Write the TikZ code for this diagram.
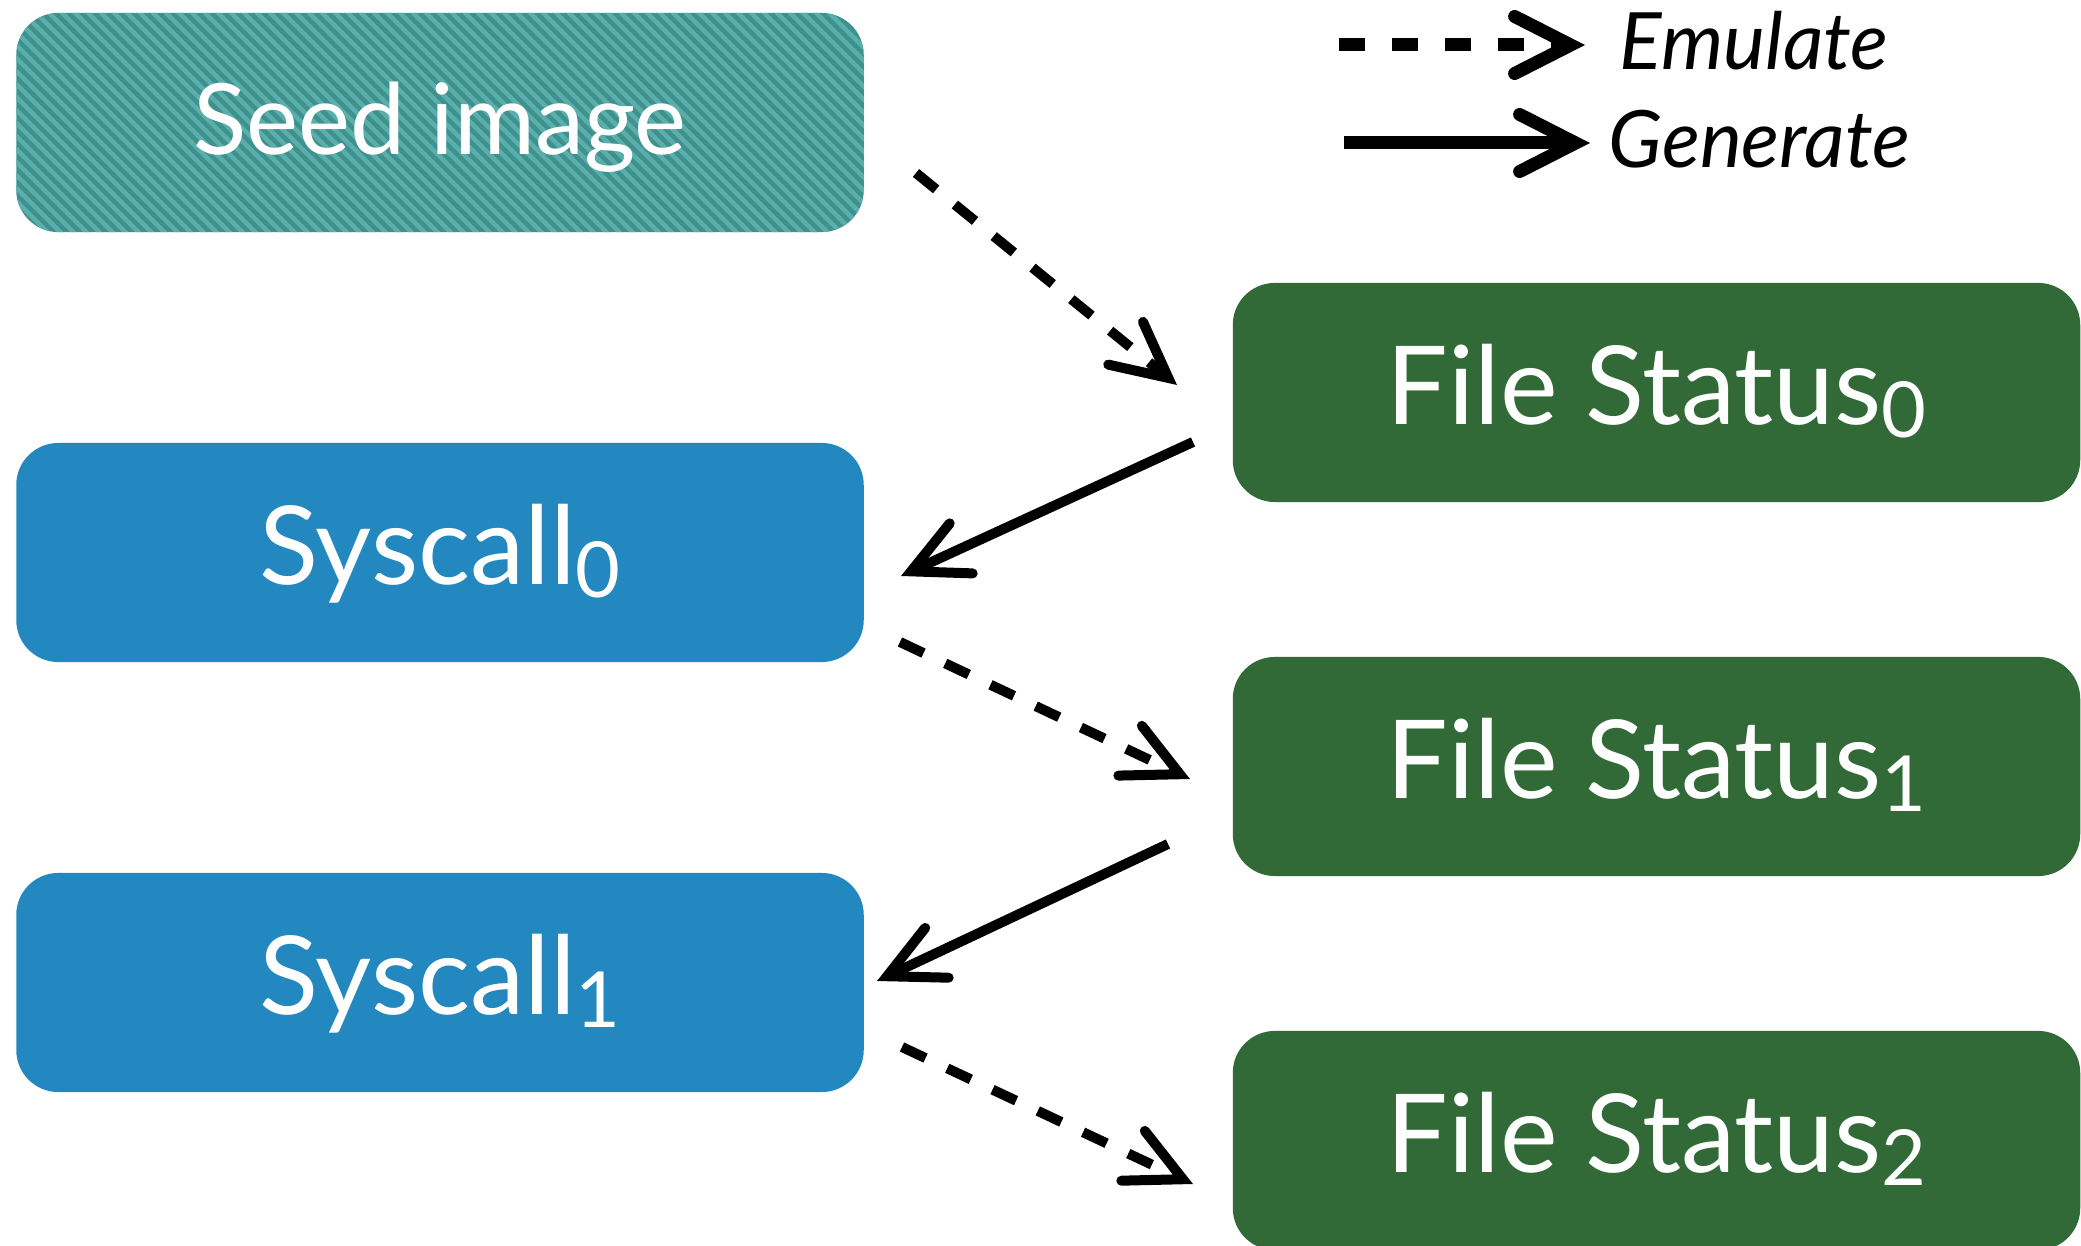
\documentclass[tikz,border=0pt]{standalone}
\usepackage{fontspec}
\setmainfont{Lato}
\usetikzlibrary{arrows.meta}
\definecolor{seedbase}{HTML}{3F918E}
\definecolor{seedstripe}{HTML}{5AAEAB}
\definecolor{sysblue}{HTML}{2387C0}
\definecolor{fsgreen}{HTML}{316A37}
\newcommand{\idx}[1]{\raisebox{-0.13cm}{\fontsize{22}{22}\selectfont #1}}
\begin{document}
\begin{tikzpicture}[x=0.01cm,y=-0.01cm,
  box/.style={rounded corners=0.42cm, minimum width=8.47cm, minimum height=2.19cm,
    text=white, inner sep=0pt, text height=0.73cm, text depth=0.1cm,
    font=\fontsize{31}{32}\selectfont},
  sysbox/.style={box, fill=sysblue},
  fsbox/.style={box, fill=fsgreen},
  seedbox/.style={box, fill=seedbase, font=\fontsize{28}{30}\selectfont,
    path picture={\foreach \k in {-110,...,110}
      \draw[seedstripe, line width=0.045cm] (\k*13,-400) -- ++(800,800);}},
  headtip/.tip={Straight Barb[length=0.55cm, width=0.55cm, line width=0pt 1,
    line cap=round, line join=miter]},
  legtip/.tip={Straight Barb[length=0.56cm, width=0.57cm, line width=0pt 1,
    line cap=round, line join=miter]},
  gen/.style={line width=0.1cm, -headtip},
  emu/.style={gen, dash pattern=on 0.26cm off 0.24cm},
  leggen/.style={line width=0.13cm, -legtip},
  legemu/.style={leggen, dash pattern=on 0.26cm off 0.27cm},
  legtext/.style={anchor=base west, inner sep=0pt, font=\fontsize{22.5}{24}\selectfont\itshape}
]
\useasboundingbox (0,0) rectangle (2081,1246);

% boxes
\node[seedbox] (seed) at (440,122.5) {Seed image};
\node[fsbox]  (fs0)  at (1656.5,392.5) {File Status\idx{0}};
\node[sysbox] (sys0) at (440,552.5) {Syscall\idx{0}};
\node[fsbox]  (fs1)  at (1656.5,766.5) {File Status\idx{1}};
\node[sysbox] (sys1) at (440,982.5) {Syscall\idx{1}};
\node[fsbox]  (fs2)  at (1656.5,1140.5) {File Status\idx{2}};

% connector ends
\coordinate (a1s) at (916,173);  \coordinate (a1e) at (1177,385);
\coordinate (a2s) at (1193,442); \coordinate (a2e) at (901,576);
\coordinate (a3s) at (900,642);  \coordinate (a3e) at (1190,779);
\coordinate (a4s) at (1168,844); \coordinate (a4e) at (877,981);
\coordinate (a5s) at (902,1047); \coordinate (a5e) at (1193,1184);

\draw[emu] (a1s) -- (a1e);
\draw[gen] (a2s) -- (a2e);
\draw[emu] (a3s) -- (a3e);
\draw[gen] (a4s) -- (a4e);
\draw[emu] (a5s) -- (a5e);

% legend
\coordinate (l1s) at (1339,45);  \coordinate (l1e) at (1585,45);
\coordinate (l2s) at (1344,143); \coordinate (l2e) at (1590,143);
\draw[legemu] (l1s) -- (l1e);
\draw[leggen] (l2s) -- (l2e);
\node[legtext] (lemu) at (1619,70) {Emulate};
\node[legtext] (lgen) at (1608,168) {Generate};
\end{tikzpicture}
\end{document}
